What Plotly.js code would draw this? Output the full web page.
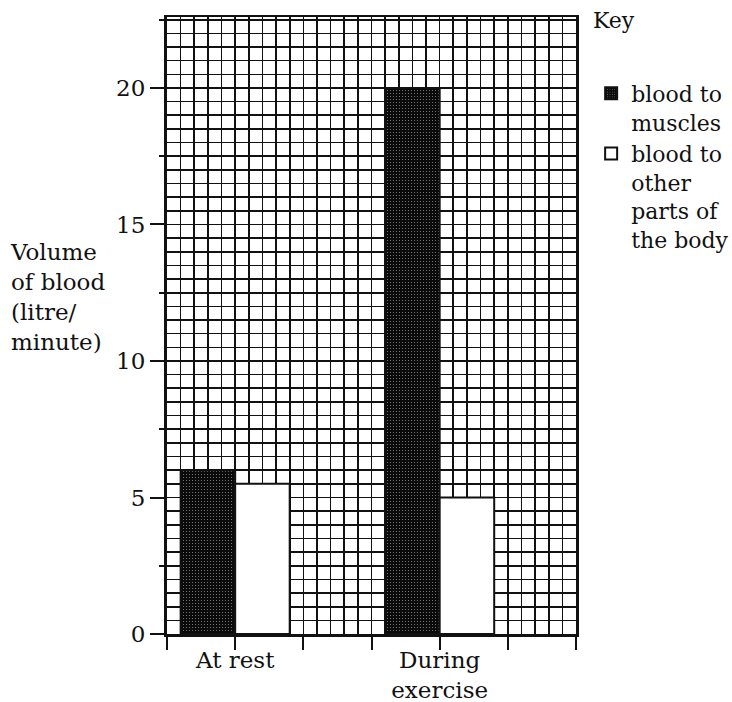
<!DOCTYPE html>
<html>
<head>
<meta charset="utf-8">
<script src="https://cdn.plot.ly/plotly-3.0.1.min.js"></script>
<style>html,body{margin:0;padding:0;background:#fff;}#chart{width:732px;height:702px;}</style>
</head>
<body>
<div id="chart"></div>
<script>
// ---- data ----
const categories = ["At rest", "During<br>exercise"];
const seriesNames = ["blood to<br>muscles", "blood to<br>other<br>parts of<br>the body"];
const bloodToMuscles = [6, 20];
const bloodToOther = [5.5, 5];
const yTickVals = [0, 5, 10, 15, 20];
const yTickText = ["0", "5", "10", "15", "20"];
const yAxisTitle = "Volume<br>of blood<br>(litre/<br>minute)";
const legendTitle = "Key";

const FONT = "DejaVu Serif, Liberation Serif, serif";
const INK = "#111";
const GRIDW = 1.6;

const traces = [
  {
    type: "bar", name: seriesNames[0], x: categories, y: bloodToMuscles,
    marker: {
      color: "#0a0a0a",
      line: {color: INK, width: 2},
      pattern: {shape: ".", fillmode: "overlay", fgcolor: "#ffffff", size: 3, solidity: 0.12}
    },
    hoverinfo: "skip"
  },
  {
    type: "bar", name: seriesNames[1], x: categories, y: bloodToOther,
    marker: {color: "#ffffff", line: {color: INK, width: 2}},
    hoverinfo: "skip"
  },
  // helper trace (no visible marks) so that the grid / tick overlay axes are drawn
  {
    type: "scatter", mode: "markers", x: [0], y: [0], xaxis: "x2", yaxis: "y2",
    marker: {opacity: 0, size: 1}, showlegend: false, hoverinfo: "skip"
  }
];

const layout = {
  width: 732, height: 702,
  margin: {l: 167, r: 156, t: 17, b: 68, autoexpand: false},
  paper_bgcolor: "#fff", plot_bgcolor: "#fff",
  font: {family: FONT, size: 23, color: INK},
  barmode: "group", bargap: 0.4667, bargroupgap: 0,
  showlegend: true,
  legend: {
    x: 1.037, xanchor: "left", y: 0.91, yanchor: "top",
    font: {family: FONT, size: 22, color: INK},
    valign: "top", tracegroupgap: 6, itemwidth: 30,
    bgcolor: "rgba(0,0,0,0)"
  },
  xaxis: {
    type: "category", range: [-1/3, 5/3], fixedrange: true,
    showgrid: false, zeroline: false, showline: false,
    ticks: "", ticklabelstandoff: 10,
    tickfont: {family: FONT, size: 23, color: INK}
  },
  xaxis2: {
    overlaying: "x", anchor: "y", side: "bottom",
    type: "linear", range: [0, 30], dtick: 5, tick0: 0,
    showticklabels: false, ticks: "outside", ticklen: 13, tickwidth: 2, tickcolor: INK,
    showgrid: true, gridcolor: INK, gridwidth: GRIDW,
    minor: {dtick: 1, showgrid: true, gridcolor: INK, gridwidth: GRIDW, ticks: ""},
    showline: true, linecolor: INK, linewidth: 2.5, mirror: true, zeroline: false
  },
  yaxis: {
    range: [0, 22.6], tickmode: "array", tickvals: yTickVals, ticktext: yTickText,
    ticks: "outside", ticklen: 14, tickwidth: 2, tickcolor: INK,
    showgrid: true, gridcolor: INK, gridwidth: GRIDW,
    minor: {dtick: 0.5, showgrid: true, gridcolor: INK, gridwidth: GRIDW, ticks: ""},
    showline: true, linecolor: INK, linewidth: 3, mirror: true, zeroline: false,
    tickfont: {family: FONT, size: 23, color: INK}
  },
  yaxis2: {
    overlaying: "y", anchor: "x", side: "left",
    range: [0, 22.6], dtick: 2.5, tick0: 0,
    showticklabels: false, ticks: "outside", ticklen: 7, tickwidth: 2, tickcolor: INK,
    showgrid: false, zeroline: false, showline: false
  },
  annotations: [
    {
      text: yAxisTitle, xref: "paper", yref: "paper", x: -0.388, y: 0.546,
      xanchor: "left", yanchor: "middle", align: "left", showarrow: false,
      font: {family: FONT, size: 23, color: INK}
    },
    {
      text: legendTitle, xref: "paper", yref: "paper", x: 1.037, y: 0.995,
      xanchor: "left", yanchor: "middle", align: "left", showarrow: false,
      font: {family: FONT, size: 22, color: INK}
    }
  ]
};

Plotly.newPlot("chart", traces, layout, {staticPlot: true, displayModeBar: false});
</script>
</body>
</html>
